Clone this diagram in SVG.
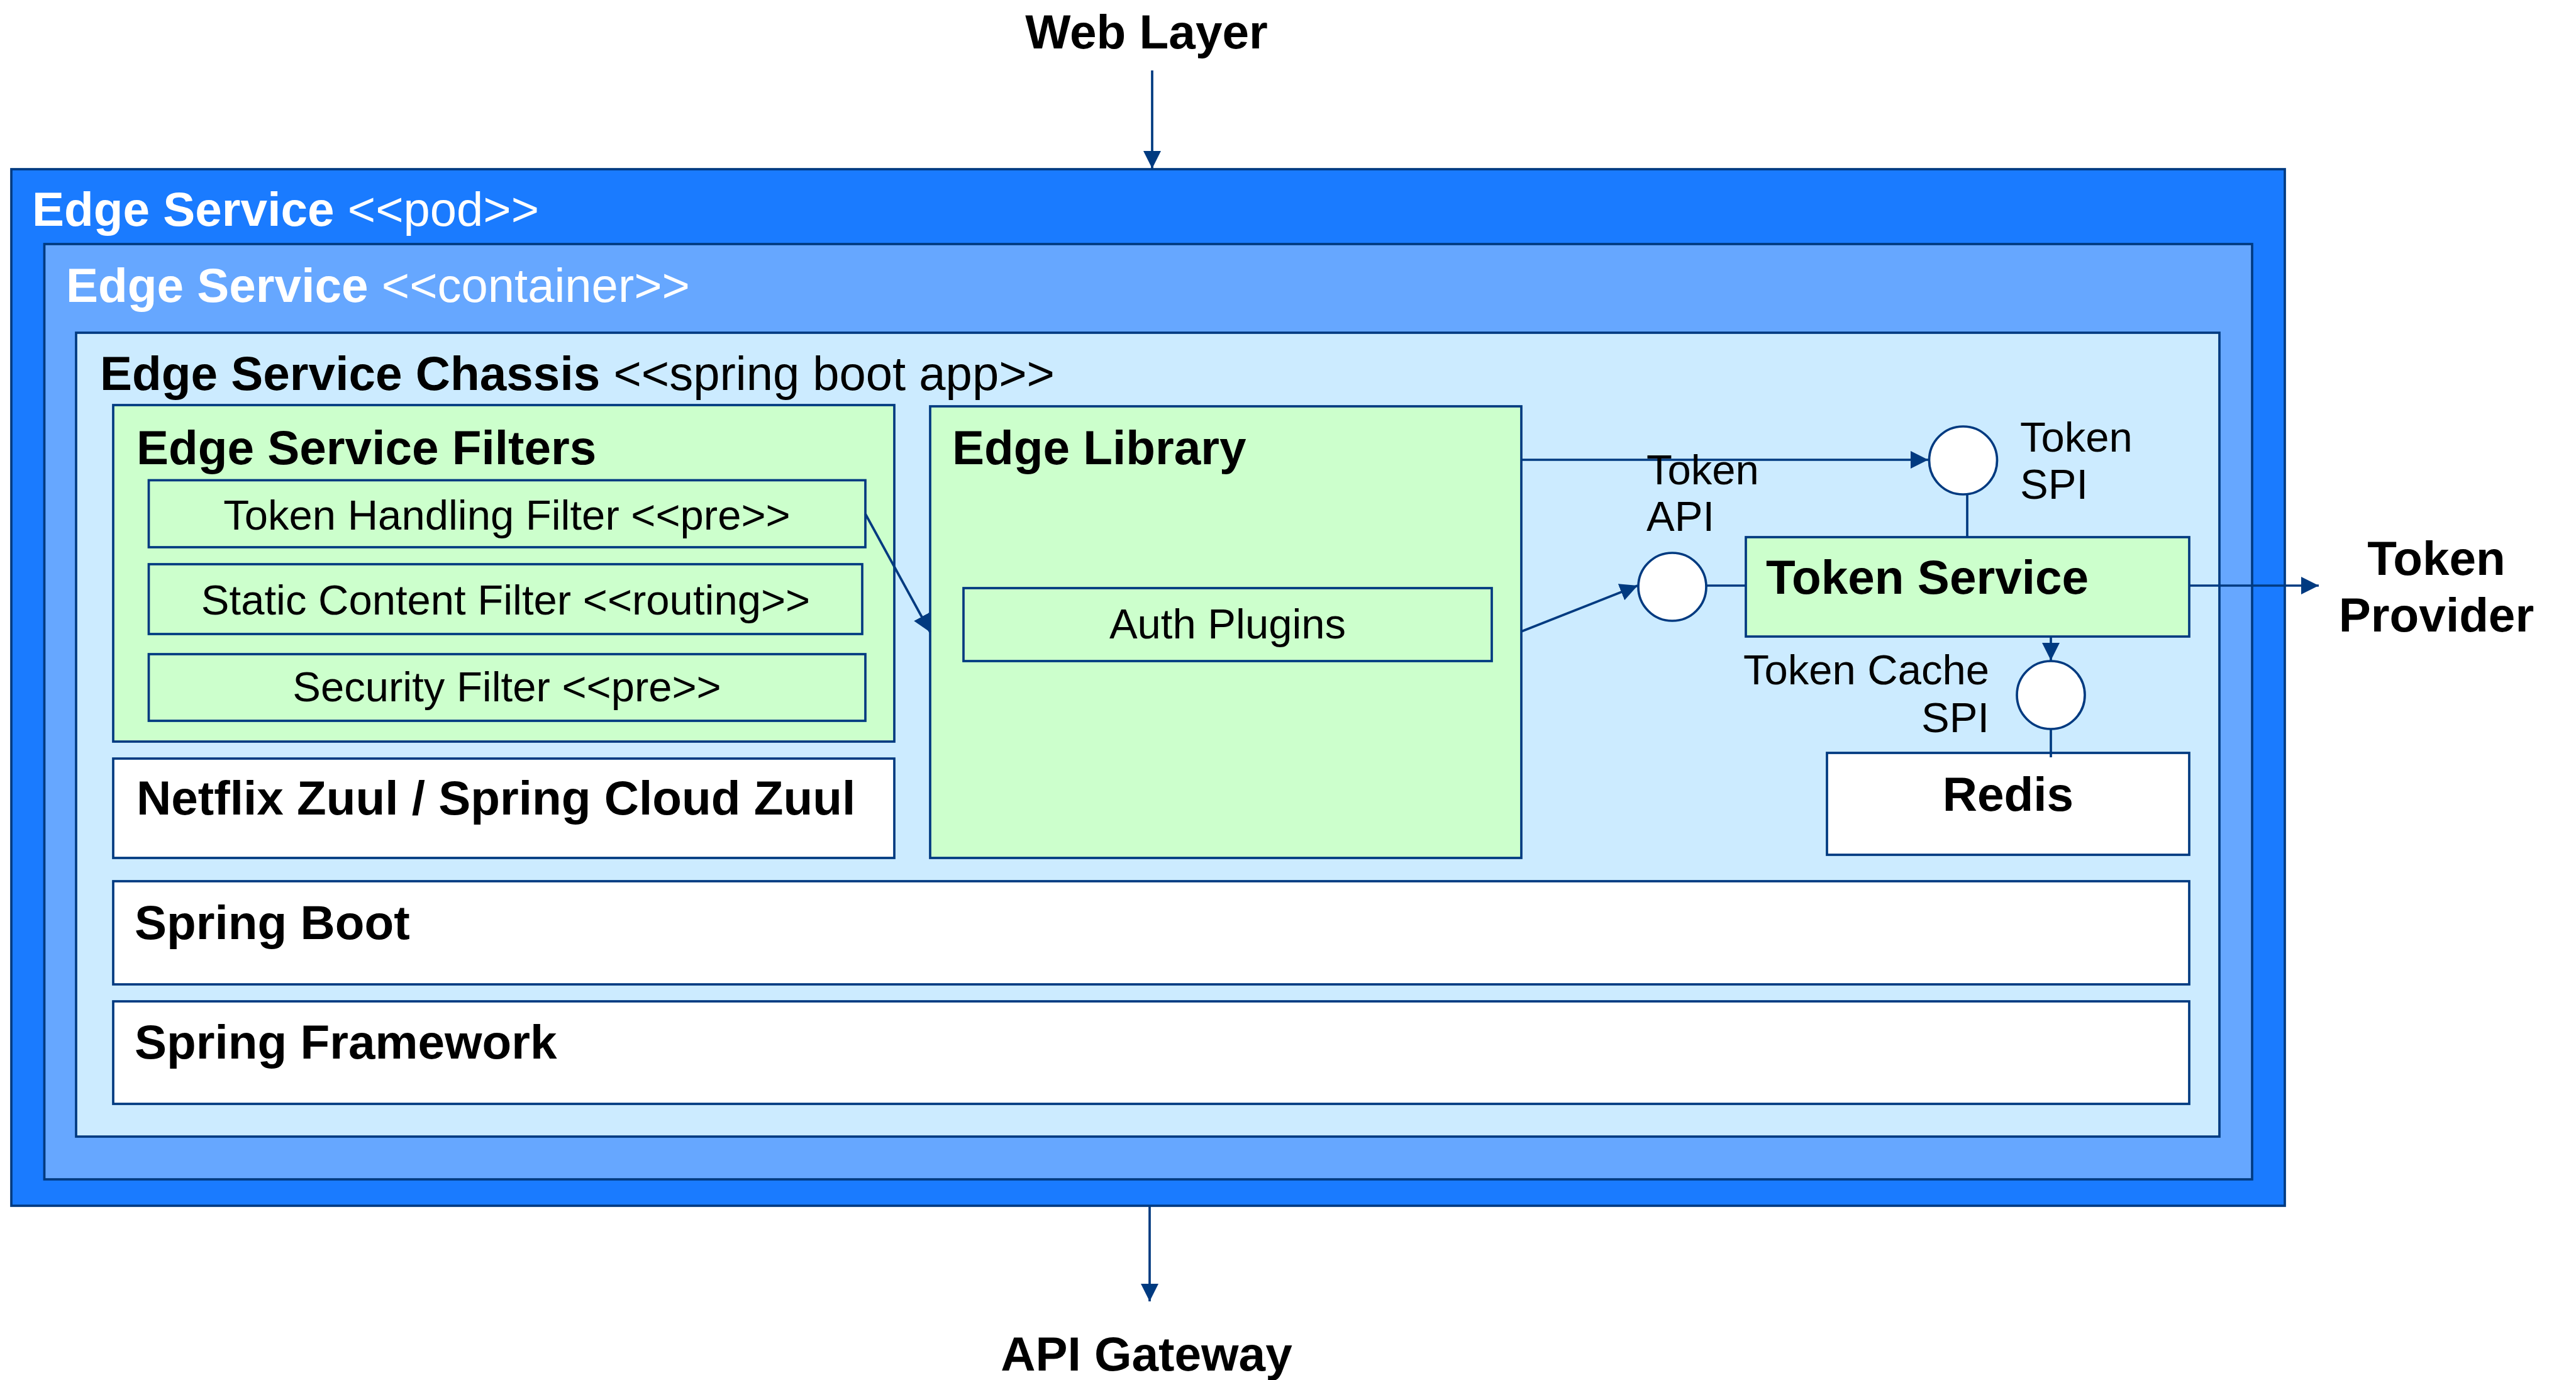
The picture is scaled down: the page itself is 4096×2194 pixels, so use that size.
<svg xmlns="http://www.w3.org/2000/svg" width="4096" height="2194" viewBox="0 0 4096 2194">
  <style>
    .box { stroke: #003A80; stroke-width: 3.7; }
    .pod { fill: #1A7BFF; }
    .container { fill: #66A7FF; }
    .chassis { fill: #CCEBFF; }
    .green { fill: #CCFFCC; }
    .white { fill: #FFFFFF; }
    .iface { fill: #FFFFFF; stroke: #003A80; stroke-width: 3.7; }
    .conn { stroke: #003A80; stroke-width: 3.7; fill: none; }
    text { font-family: "Liberation Sans", Arial, sans-serif; fill: #000000; }
    .b { font-weight: bold; font-size: 76.5px; }
    .r { font-size: 76px; }
    .s { font-size: 67px; }
    .w { fill: #FFFFFF; }
    .mid { text-anchor: middle; }
    .end { text-anchor: end; }
  </style>
  <defs>
    <marker id="arrow" viewBox="0 0 10 10" refX="10" refY="5" markerWidth="28" markerHeight="28" markerUnits="userSpaceOnUse" orient="auto">
      <path d="M0,0 L10,5 L0,10 z" fill="#003A80"/>
    </marker>
  </defs>

  <rect width="4096" height="2194" fill="#FFFFFF"/>

  <!-- Outer pod -->
  <g id="edge-service-pod">
    <rect class="box pod" x="18" y="269" width="3615" height="1648"/>
    <text class="w" x="51" y="359"><tspan class="b">Edge Service </tspan><tspan class="r">&lt;&lt;pod&gt;&gt;</tspan></text>
  </g>

  <!-- Container -->
  <g id="edge-service-container">
    <rect class="box container" x="70.5" y="388" width="3510.5" height="1487"/>
    <text class="w" x="105" y="480"><tspan class="b">Edge Service </tspan><tspan class="r">&lt;&lt;container&gt;&gt;</tspan></text>
  </g>

  <!-- Spring boot app chassis -->
  <g id="edge-service-chassis">
    <rect class="box chassis" x="121" y="529" width="3408" height="1278"/>
    <text x="159" y="620"><tspan class="b">Edge Service Chassis </tspan><tspan class="r">&lt;&lt;spring boot app&gt;&gt;</tspan></text>
  </g>

  <g id="edge-service-filters">
    <rect class="box green" x="180" y="644" width="1242" height="535"/>
    <text class="b" x="217" y="738">Edge Service Filters</text>
  </g>

  <g id="token-handling-filter">
    <rect class="box green" x="236.5" y="763.5" width="1139.5" height="106.5"/>
    <text class="s mid" x="806" y="842">Token Handling Filter &lt;&lt;pre&gt;&gt;</text>
  </g>

  <g id="static-content-filter">
    <rect class="box green" x="236.5" y="897" width="1134.5" height="111"/>
    <text class="s mid" x="804" y="977">Static Content Filter &lt;&lt;routing&gt;&gt;</text>
  </g>

  <g id="security-filter">
    <rect class="box green" x="236.5" y="1040" width="1139.5" height="106"/>
    <text class="s mid" x="806" y="1115">Security Filter &lt;&lt;pre&gt;&gt;</text>
  </g>

  <g id="zuul">
    <rect class="box white" x="180" y="1206" width="1242" height="158"/>
    <text class="b" x="217" y="1295">Netflix Zuul / Spring Cloud Zuul</text>
  </g>

  <g id="edge-library">
    <rect class="box green" x="1479" y="646" width="940" height="718"/>
    <text class="b" x="1514" y="738">Edge Library</text>
  </g>

  <g id="auth-plugins">
    <rect class="box green" x="1532" y="935" width="840" height="116"/>
    <text class="s mid" x="1952" y="1015">Auth Plugins</text>
  </g>

  <g id="token-service">
    <rect class="box green" x="2776" y="854" width="705" height="158"/>
    <text class="b" x="2808" y="944">Token Service</text>
  </g>

  <g id="redis">
    <rect class="box white" x="2905" y="1197" width="576" height="162"/>
    <text class="b mid" x="3193" y="1289">Redis</text>
  </g>

  <g id="spring-boot">
    <rect class="box white" x="180" y="1401" width="3301" height="164"/>
    <text class="b" x="214" y="1493">Spring Boot</text>
  </g>

  <g id="spring-framework">
    <rect class="box white" x="180" y="1592" width="3301" height="163"/>
    <text class="b" x="214" y="1683">Spring Framework</text>
  </g>

  <!-- Interfaces -->
  <g id="token-spi">
    <circle class="iface" cx="3121.5" cy="732" r="54"/>
  </g>
  <g id="token-api">
    <circle class="iface" cx="2659" cy="933" r="54"/>
  </g>
  <g id="token-cache-spi">
    <circle class="iface" cx="3261" cy="1105" r="54"/>
  </g>

  <!-- External endpoints -->
  <g id="web-layer">
    <text class="b mid" x="1823" y="77">Web Layer</text>
  </g>
  <g id="api-gateway">
    <text class="b mid" x="1823" y="2179">API Gateway</text>
  </g>
  <g id="token-provider">
    <text class="b mid" x="3874" y="914">Token</text>
    <text class="b mid" x="3874" y="1004">Provider</text>
  </g>

  <!-- Connectors -->
  <g id="connectors">
    <line class="conn" x1="1832" y1="112" x2="1832" y2="268" marker-end="url(#arrow)"/>
    <line class="conn" x1="1828" y1="1917" x2="1828" y2="2069" marker-end="url(#arrow)"/>
    <line class="conn" x1="1376" y1="817" x2="1479" y2="1005" marker-end="url(#arrow)"/>
    <line class="conn" x1="2419" y1="731" x2="3066" y2="731" marker-end="url(#arrow)"/>
    <line class="conn" x1="2419" y1="1004" x2="2604" y2="931" marker-end="url(#arrow)"/>
    <line class="conn" x1="2713" y1="931" x2="2776" y2="931"/>
    <line class="conn" x1="3128" y1="786" x2="3128" y2="854"/>
    <line class="conn" x1="3481" y1="931" x2="3687" y2="931" marker-end="url(#arrow)"/>
    <line class="conn" x1="3261" y1="1012" x2="3261" y2="1050" marker-end="url(#arrow)"/>
    <line class="conn" x1="3261" y1="1159" x2="3261" y2="1204"/>
  </g>

  <!-- Interface labels -->
  <g id="interface-labels">
    <text class="s" x="2618" y="770">Token</text>
    <text class="s" x="2618" y="844">API</text>
    <text class="s" x="3212" y="718">Token</text>
    <text class="s" x="3212" y="793">SPI</text>
    <text class="s end" x="3163" y="1088">Token Cache</text>
    <text class="s end" x="3163" y="1164">SPI</text>
  </g>
</svg>
